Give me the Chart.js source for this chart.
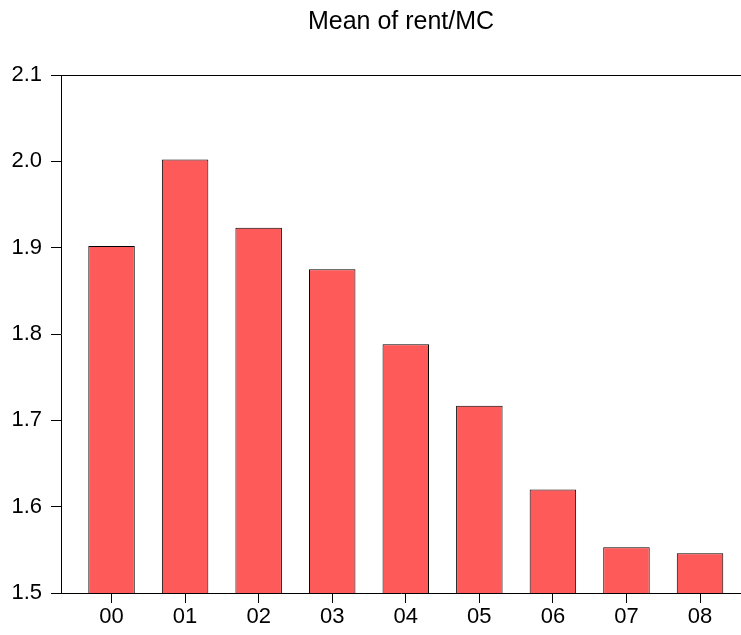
<!DOCTYPE html>
<html>
<head>
<meta charset="utf-8">
<script src="https://cdn.jsdelivr.net/npm/chart.js@4/dist/chart.umd.min.js"></script>
<style>
    body { margin: 0; background: #fff; }
    #wrap { width: 741px; height: 635px; }
</style>
</head>
<body>
<div id="wrap"><canvas id="rent-chart"></canvas></div>
<script>
const years = ['00', '01', '02', '03', '04', '05', '06', '07', '08'];
const meanRent = [1.902, 2.002, 1.923, 1.875, 1.788, 1.717, 1.620, 1.553, 1.546];
const yTicks = [1.5, 1.6, 1.7, 1.8, 1.9, 2.0, 2.1];

const ctx = document.getElementById('rent-chart').getContext('2d');
const fontFamily = '"Liberation Sans", Arial, Helvetica, sans-serif';

// EViews-style frame: top border line across the plot
const topLine = {
    id: 'topLine',
    afterDraw(chart) {
        const { ctx, chartArea } = chart;
        ctx.save();
        ctx.strokeStyle = '#000';
        ctx.lineWidth = 1;
        ctx.beginPath();
        ctx.moveTo(chartArea.left, chartArea.top + 0.5);
        ctx.lineTo(chartArea.right, chartArea.top + 0.5);
        ctx.stroke();
        ctx.restore();
    }
};

const rentChart = new Chart(ctx, {
    type: 'bar',
    data: {
        datasets: [{
            data: meanRent.map((v, i) => ({ x: i, y: v })),
            backgroundColor: '#FF5A5A',
            borderColor: '#000',
            borderWidth: 1,
            borderSkipped: false,
            categoryPercentage: 1,
            barPercentage: 0.632
        }]
    },
    options: {
        responsive: true,
        maintainAspectRatio: false,
        animation: false,
        layout: { padding: 0 },
        plugins: {
            legend: { display: false },
            tooltip: { enabled: false },
            title: {
                display: true,
                fullSize: false, // center over the plot area, not the canvas
                text: 'Mean of rent/MC',
                color: '#000',
                font: { family: fontFamily, size: 25, weight: 'normal' },
                padding: { top: 7, bottom: 38 }
            }
        },
        scales: {
            x: {
                type: 'linear',
                offset: false,
                min: -0.687,
                max: 8.557,
                afterBuildTicks: (axis) => {
                    axis.ticks = years.map((y, i) => ({ value: i }));
                },
                afterFit: (scale) => { scale.height = 42; },
                grid: { offset: false, drawOnChartArea: false, drawTicks: true, tickLength: 10, color: '#000' },
                border: { display: true, color: '#000', width: 1 },
                ticks: {
                    color: '#000',
                    padding: 1,
                    maxRotation: 0,
                    font: { family: fontFamily, size: 22 },
                    callback: (v) => years[v]
                }
            },
            y: {
                min: yTicks[0],
                max: yTicks[yTicks.length - 1],
                afterBuildTicks: (axis) => {
                    axis.ticks = yTicks.map(v => ({ value: v }));
                },
                afterFit: (scale) => { scale.width = 61; },
                grid: { drawOnChartArea: false, drawTicks: true, tickLength: 10, color: '#000' },
                border: { display: true, color: '#000', width: 1 },
                ticks: {
                    color: '#000',
                    padding: 9,
                    font: { family: fontFamily, size: 22 },
                    callback: (v) => v.toFixed(1)
                }
            }
        }
    },
    plugins: [topLine]
});
</script>
</body>
</html>
